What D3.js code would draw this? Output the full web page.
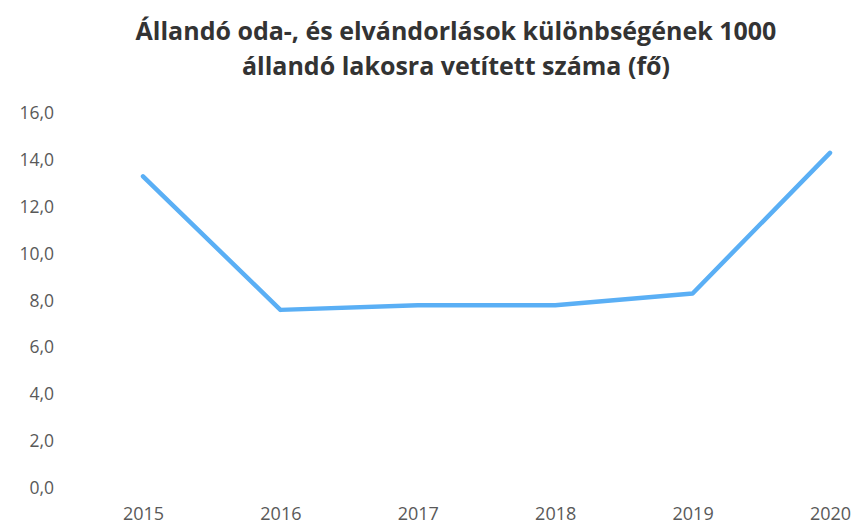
<!DOCTYPE html>
<html>
<head>
<meta charset="utf-8">
<script src="https://cdn.jsdelivr.net/npm/d3@7"></script>
<style>
  body { margin: 0; background: #fff; }
  svg { display: block; font-family: "Open Sans", sans-serif; }
</style>
</head>
<body>
<svg></svg>
<script>
const years = ["2015", "2016", "2017", "2018", "2019", "2020"];
const values = [13.3, 7.6, 7.8, 7.8, 8.3, 14.3];
const yTicks = [0, 2, 4, 6, 8, 10, 12, 14, 16];
const titleLines = [
    "Állandó oda-, és elvándorlások különbségének 1000",
    "állandó lakosra vetített száma (fő)"
];

const W = 859, H = 527;
const svg = d3.select("svg").attr("width", W).attr("height", H);

// title
svg.append("g").selectAll("text")
    .data(titleLines)
    .enter().append("text")
    .attr("x", 456)
    .attr("y", (d, i) => 40 + i * 35)
    .attr("text-anchor", "middle")
    .attr("font-size", 25)
    .attr("font-weight", "bold")
    .attr("fill", "#333333")
    .text(d => d);

const scaleX = d3.scalePoint()
    .domain(years)
    .range([143, 830]);
const scaleY = d3.scaleLinear()
    .domain([0, 16])
    .range([488, 113]);

// y axis labels
const yAxis = svg.append("g")
    .attr("transform", "translate(54,0)")
    .call(d3.axisLeft(scaleY).tickValues(yTicks).tickSize(0).tickPadding(0)
        .tickFormat(d => d3.format(".1f")(d).replace(".", ",")));
yAxis.select(".domain").remove();
yAxis.selectAll("text")
    .attr("font-size", 17.5)
    .attr("font-family", "Open Sans, sans-serif")
    .attr("fill", "#595959");

// x axis labels
const xAxis = svg.append("g")
    .attr("transform", "translate(0,507)")
    .call(d3.axisBottom(scaleX).tickSize(0).tickPadding(0));
xAxis.select(".domain").remove();
xAxis.selectAll("text")
    .attr("font-size", 18)
    .attr("font-family", "Open Sans, sans-serif")
    .attr("fill", "#595959");

// line
const line = d3.line()
    .x((d, i) => scaleX(years[i]))
    .y(d => scaleY(d));

svg.append("path")
    .datum(values)
    .attr("fill", "none")
    .attr("stroke", "#5aaff5")
    .attr("stroke-width", 4.5)
    .attr("stroke-linejoin", "round")
    .attr("stroke-linecap", "round")
    .attr("d", line);
</script>
</body>
</html>
